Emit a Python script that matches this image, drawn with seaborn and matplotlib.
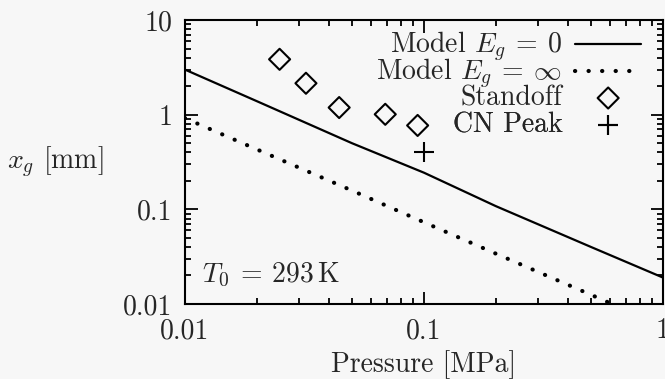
import numpy as np
import pandas as pd
import matplotlib
matplotlib.use("Agg")
import matplotlib.pyplot as plt
from matplotlib.ticker import LogLocator, NullFormatter
import seaborn as sns

# Model curves
model_p = [0.01, 0.02, 0.05, 0.1, 0.2, 0.5, 1.0]
model_eg0 = [3.0, 1.39, 0.50, 0.244, 0.108, 0.040, 0.019]
model_eginf = [0.92, 0.43, 0.158, 0.073, 0.034, 0.0125, 0.0058]

# Measurements
standoff_p = [0.0249, 0.0321, 0.0442, 0.0689, 0.0941]
standoff_x = [3.85, 2.15, 1.19, 1.01, 0.77]
cn_peak_p = [0.1]
cn_peak_x = [0.40]

xticks = [0.01, 0.1, 1]
xticklabels = ["0.01", "0.1", "1"]
yticks = [0.01, 0.1, 1, 10]
yticklabels = ["0.01", "0.1", "1", "10"]

sns.set_style("ticks")
plt.rcParams["font.family"] = ["cmr10", "DejaVu Serif"]
plt.rcParams["mathtext.fontset"] = "cm"
plt.rcParams["axes.formatter.use_mathtext"] = True
fs = 20

bg = "#f7f7f7"
fig = plt.figure(figsize=(6.65, 3.79), dpi=100, facecolor=bg)
ax = fig.add_axes([0.278, 0.198, 0.719, 0.749])
ax.set_facecolor(bg)

models = pd.DataFrame({"p": model_p, "eg0": model_eg0, "eginf": model_eginf})

sns.lineplot(data=models, x="p", y="eg0", ax=ax, color="black", linewidth=1.6,
             label=r"Model $E_g\:=\:0$", legend=False)
sns.lineplot(data=models, x="p", y="eginf", ax=ax, color="black", linewidth=3.0,
             dashes=False, label=r"Model $E_g\:=\:\infty$", legend=False)
# dotted style with round dots
ax.lines[-1].set_linestyle((0, (0.05, 3.2)))
ax.lines[-1].set_dash_capstyle("round")

sns.scatterplot(x=standoff_p, y=standoff_x, ax=ax, marker="D", s=115,
                facecolor="none", edgecolor="black", linewidth=1.5,
                label="Standoff", legend=False)
sns.scatterplot(x=cn_peak_p, y=cn_peak_x, ax=ax, marker="+", s=200,
                color="black", linewidth=1.5, label="CN Peak", legend=False)

ax.set_xscale("log")
ax.set_yscale("log")
ax.set_xlim(0.01, 1)
ax.set_ylim(0.01, 10)

ax.set_xticks(xticks)
ax.set_xticklabels(xticklabels, fontsize=fs)
ax.set_yticks(yticks)
ax.set_yticklabels(yticklabels, fontsize=fs)
ax.xaxis.set_minor_locator(LogLocator(base=10, subs=np.arange(2, 10)))
ax.yaxis.set_minor_locator(LogLocator(base=10, subs=np.arange(2, 10)))
ax.xaxis.set_minor_formatter(NullFormatter())
ax.yaxis.set_minor_formatter(NullFormatter())

ax.tick_params(which="both", direction="in", top=True, right=True, width=1.3,
               color="black")
ax.tick_params(which="major", length=9)
ax.tick_params(which="minor", length=4.5)
ax.tick_params(axis="x", which="major", pad=10)
ax.tick_params(axis="y", which="major", pad=9)

for sp in ax.spines.values():
    sp.set_linewidth(1.5)
    sp.set_color("black")

ax.set_xlabel("Pressure [MPa]", fontsize=fs, labelpad=4)
ax.set_ylabel(r"$x_g$ [mm]", fontsize=fs, rotation=0, ha="right", va="center")
ax.yaxis.set_label_coords(-0.17, 0.5)

ax.text(0.035, 0.102, r"$T_0\:=\:293\,\mathrm{K}$", transform=ax.transAxes,
        fontsize=fs, ha="left", va="center")

# one legend per row so the rows sit evenly like in the original
handles, labels = ax.get_legend_handles_labels()
row_y = [0.905, 0.81, 0.725, 0.63]
for h, lab, y in zip(handles, labels, row_y):
    leg = ax.legend([h], [lab], loc="center right", bbox_to_anchor=(0.955, y),
                    markerfirst=False, frameon=False, fontsize=fs,
                    handlelength=2.4, handletextpad=0.45,
                    borderaxespad=0.0, borderpad=0.0)
    ax.add_artist(leg)

fig.savefig("out.png", dpi=100, facecolor=bg)
